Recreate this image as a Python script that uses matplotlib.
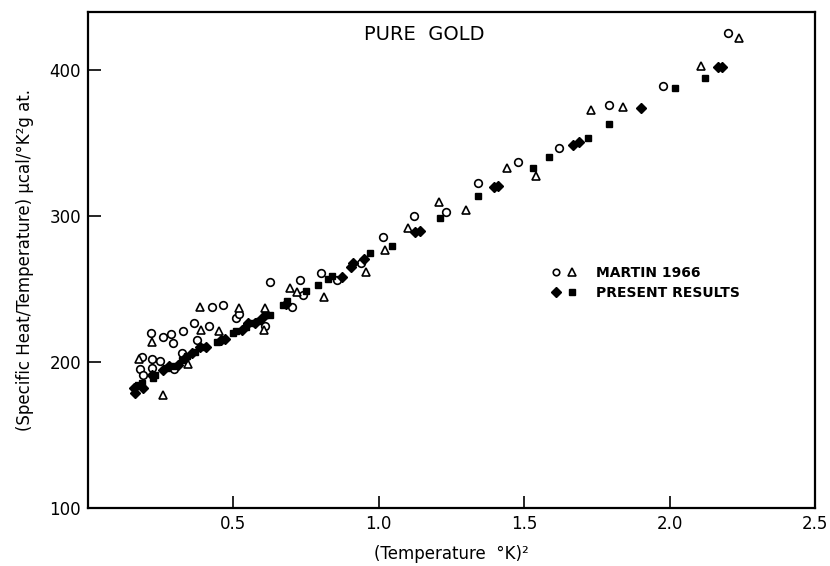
import numpy as np
import matplotlib
matplotlib.use("Agg")
import matplotlib.pyplot as plt
from matplotlib.legend_handler import HandlerTuple

# Martin 1966 - circulos
martin_circ_x = [0.18, 0.19, 0.186, 0.22, 0.22, 0.216, 0.247, 0.258, 0.285, 0.293,
                 0.296, 0.323, 0.327, 0.365, 0.374, 0.416, 0.426, 0.464, 0.51, 0.52,
                 0.61, 0.625, 0.70, 0.73, 0.74, 0.80, 0.855, 0.94, 1.015, 1.12,
                 1.23, 1.34, 1.48, 1.62, 1.79, 1.976, 2.20]
martin_circ_y = [195.5, 191.4, 203.7, 202.4, 196, 219.6, 200.5, 217.5, 219, 213.4,
                 195.5, 206.5, 221.6, 226.5, 214.8, 224.4, 237.5, 239, 230, 233,
                 225, 255, 237.5, 256, 245.7, 260.8, 256, 267.7, 285.5, 300,
                 303, 322.7, 337, 347, 376, 389, 425.8]

# Martin 1966 - triangulos
martin_tri_x = [0.175, 0.22, 0.258, 0.344, 0.385, 0.39, 0.45, 0.52, 0.605, 0.61,
                0.694, 0.72, 0.81, 0.955, 1.02, 1.10, 1.206, 1.30, 1.44, 1.54,
                1.73, 1.84, 2.107, 2.24]
martin_tri_y = [202.4, 213.7, 177.7, 199, 238, 222, 221, 236.8, 221.8, 237,
                250.5, 247.8, 244.3, 261.5, 276.6, 292, 310, 304, 333, 327.5,
                373, 375, 403, 422]

# Resultados presentes - losangos
present_dia_x = [0.16, 0.158, 0.19, 0.22, 0.258, 0.28, 0.31, 0.333, 0.357, 0.385,
                 0.405, 0.457, 0.47, 0.53, 0.55, 0.574, 0.598, 0.68, 0.875, 0.905,
                 0.91, 0.95, 1.124, 1.14, 1.395, 1.41, 1.667, 1.69, 1.90, 2.165,
                 2.18]
present_dia_y = [179, 182.5, 182, 191, 194.8, 197, 198, 203, 206.5, 210,
                 210.6, 214.8, 216, 222, 227, 227, 230.5, 240, 258, 265,
                 268, 270.4, 289, 290, 320, 320.6, 349, 351, 374, 402,
                 402]

# Resultados presentes - quadrados
present_sq_x = [0.172, 0.186, 0.223, 0.23, 0.27, 0.296, 0.323, 0.34, 0.368, 0.395,
                0.443, 0.50, 0.51, 0.543, 0.563, 0.588, 0.61, 0.625, 0.67, 0.683,
                0.75, 0.79, 0.825, 0.84, 0.97, 1.045, 1.21, 1.34, 1.53, 1.585,
                1.72, 1.79, 2.017, 2.12]
present_sq_y = [184.5, 186, 189, 191.4, 196, 197, 201.7, 204.5, 207, 210.6,
                214, 219.6, 221.6, 223.7, 227, 228, 232.6, 232, 238.8, 241.6,
                248.5, 252.6, 256.7, 258.8, 274.6, 279.4, 298.6, 314, 333, 340.5,
                353.6, 363, 388, 395]

x_ticks = [0.5, 1.0, 1.5, 2.0, 2.5]
y_ticks = [100, 200, 300, 400]

plt.rcParams["font.family"] = ["DejaVu Sans"]

fig = plt.figure(figsize=(8.3, 5.66), dpi=100)
ax = fig.add_axes([0.106, 0.1025, 0.876, 0.8765])

h_circ, = ax.plot(martin_circ_x, martin_circ_y, linestyle="none", marker="o",
                  ms=5.5, mfc="white", mec="black", mew=1.2)
h_tri, = ax.plot(martin_tri_x, martin_tri_y, linestyle="none", marker="^",
                 ms=6, mfc="white", mec="black", mew=1.2)
h_dia, = ax.plot(present_dia_x, present_dia_y, linestyle="none", marker="D",
                 ms=5.5, mfc="black", mec="black")
h_sq, = ax.plot(present_sq_x, present_sq_y, linestyle="none", marker="s",
                ms=5, mfc="black", mec="black")

ax.set_xlim(0, 2.5)
ax.set_ylim(100, 440)
ax.set_xticks(x_ticks)
ax.set_yticks(y_ticks)
ax.set_xticklabels(["0.5", "1.0", "1.5", "2.0", "2.5"])
ax.tick_params(direction="in", length=9, width=1.2, labelsize=12,
               top=False, right=False, pad=5)
for s in ax.spines.values():
    s.set_linewidth(1.6)

ax.set_xlabel("(Temperature  °K)²", fontsize=12, labelpad=9)
ax.set_ylabel("(Specific Heat/Temperature) μcal/°K²g at.", fontsize=12, labelpad=11)

ax.text(0.463, 0.954, "PURE  GOLD", transform=ax.transAxes, ha="center",
        va="center", fontsize=14)

leg = ax.legend([(h_circ, h_tri), (h_dia, h_sq)],
                ["MARTIN 1966", "PRESENT RESULTS"],
                handler_map={tuple: HandlerTuple(ndivide=None, pad=0.5)},
                loc="upper left", bbox_to_anchor=(0.62, 0.513), frameon=False,
                prop={"size": 10, "weight": "bold"}, handlelength=1.8,
                handletextpad=1.4, labelspacing=0.45, markerscale=0.85)

fig.savefig("out.png", dpi=100)
